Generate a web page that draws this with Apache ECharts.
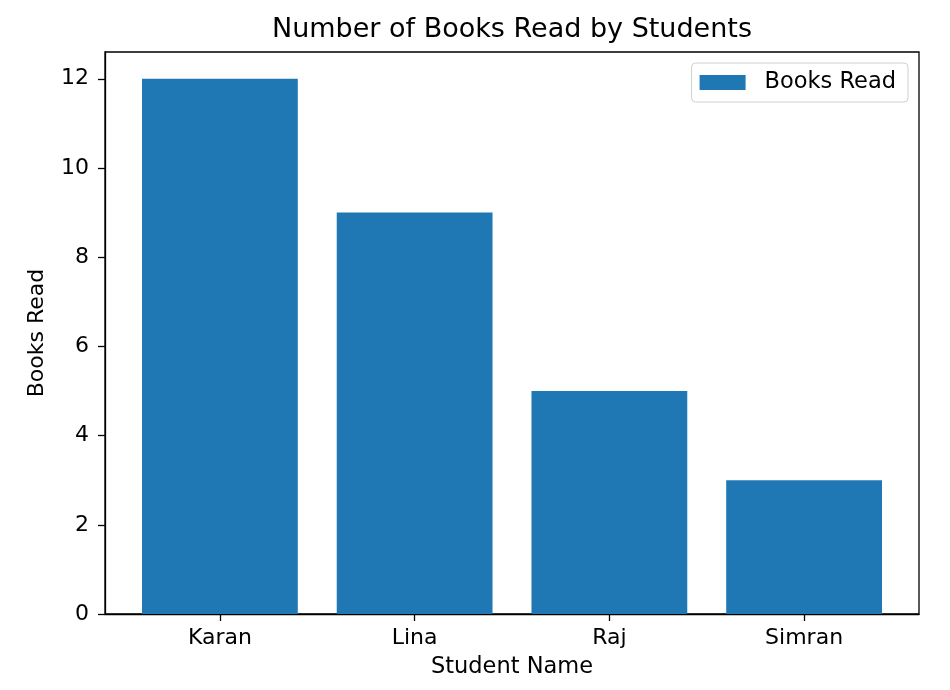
<!DOCTYPE html>
<html>
<head>
<meta charset="utf-8">
<script src="https://cdn.jsdelivr.net/npm/echarts@6/dist/echarts.min.js"></script>
<style>html,body{margin:0;padding:0;background:#fff;}#c{width:950px;height:690px;}</style>
</head>
<body>
<div id="c"></div>
<script>
const categories = ['Karan', 'Lina', 'Raj', 'Simran'];
const booksRead = [12, 9, 5, 3];
const yTicks = [0, 2, 4, 6, 8, 10, 12];

const positions = categories.map((_, i) => i);
const seriesData = booksRead.map((v, i) => [positions[i], v]);
const FONT = 'DejaVu Sans';

const chart = echarts.init(document.getElementById('c'), null, {renderer: 'canvas'});
chart.setOption({
  animation: false,
  backgroundColor: '#fff',
  title: {
    text: 'Number of Books Read by Students',
    left: 507, top: 11, textAlign: 'center',
    textStyle: {fontFamily: FONT, fontSize: 27, fontWeight: 'normal', color: '#000'}
  },
  legend: {
    right: 42, top: 63,
    icon: 'rect', itemWidth: 46, itemHeight: 15,
    padding: [8, 12, 8, 8],
    borderColor: '#d0d0d0', borderWidth: 1, borderRadius: 4,
    textStyle: {fontFamily: FONT, fontSize: 22.5, color: '#000', padding: [0, 0, 0, 14]},
    data: ['Books Read']
  },
  grid: {left: 105, right: 31, top: 52, bottom: 76, show: true, borderColor: '#000', borderWidth: 1.3, containLabel: false},
  xAxis: {
    type: 'value', min: -0.59, max: 3.59,
    name: 'Student Name', nameLocation: 'middle', nameGap: 42,
    nameTextStyle: {fontFamily: FONT, fontSize: 22.5, color: '#000'},
    splitLine: {show: false},
    axisLine: {show: true, onZero: false, lineStyle: {color: '#000', width: 1.3}},
    axisTick: {show: true, length: 7, lineStyle: {color: '#000', width: 1.3}, customValues: positions},
    axisLabel: {fontFamily: FONT, fontSize: 22, color: '#000', margin: 13, customValues: positions,
      formatter: v => categories[Math.round(v)]}
  },
  yAxis: {
    type: 'value', min: 0, max: 12.6,
    name: 'Books Read', nameLocation: 'middle', nameGap: 57,
    nameTextStyle: {fontFamily: FONT, fontSize: 22, color: '#000'},
    splitLine: {show: false},
    axisLine: {show: true, onZero: false, lineStyle: {color: '#000', width: 1.3}},
    axisTick: {show: true, length: 7, lineStyle: {color: '#000', width: 1.3}, customValues: yTicks},
    axisLabel: {fontFamily: FONT, fontSize: 22, color: '#000', margin: 16, customValues: yTicks}
  },
  series: [{
    name: 'Books Read', type: 'bar', data: seriesData,
    barWidth: '80%',
    itemStyle: {color: '#1f77b4'}
  }]
});
</script>
</body>
</html>
